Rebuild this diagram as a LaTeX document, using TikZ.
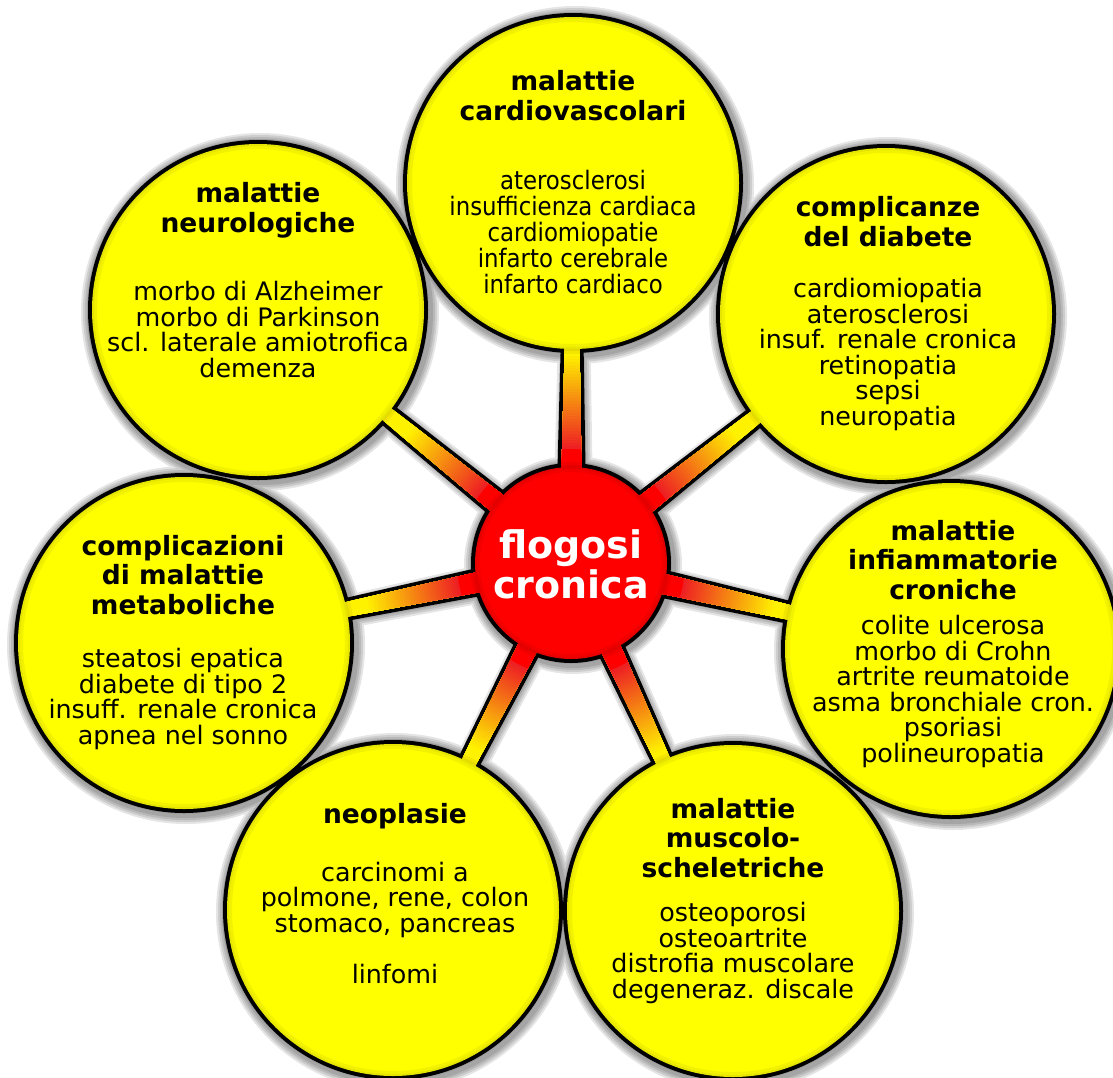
\documentclass[tikz,border=0pt]{standalone}
\usepackage{fontspec}
\setmainfont{DejaVu Sans}
\newfontfamily\narrowfont[FakeStretch=0.9]{DejaVu Sans}
\usetikzlibrary{calc}

\pgfdeclarelayer{paper}
\pgfdeclarelayer{shadow}
\pgfdeclarelayer{outline}
\pgfdeclarelayer{spokes}
\pgfsetlayers{paper,shadow,outline,spokes,main}

\definecolor{bubbleyellow}{RGB}{255,255,0}
\definecolor{hubred}{RGB}{255,0,0}

\tikzset{
  bubble/.style={circle,fill=bubbleyellow,inner sep=0,minimum size=332pt},
  hub/.style={circle,fill=hubred,inner sep=0,minimum size=192pt},
  heading/.style={font=\fontsize{26.5}{29.5}\selectfont\bfseries,align=center,inner sep=0,anchor=base},
  entries/.style={font=\fontsize{25.4}{25.5}\selectfont,align=center,inner sep=0,anchor=base},
  narrow entries/.style={entries,font=\narrowfont\fontsize{25.4}{25.8}\selectfont},
  rimglow/.style={black,opacity=.05}
}
% tapered spoke from the hub to one bubble
\newcommand{\spokeshape}[2]{($(#1.center)!12pt!90:(#2.center)$) -- ($(#2.center)!4pt!-90:(#1.center)$) -- ($(#2.center)!4pt!90:(#1.center)$) -- ($(#1.center)!12pt!-90:(#2.center)$) -- cycle}

\begin{document}
\begin{tikzpicture}[x=1pt,y=-1pt]
  \useasboundingbox (0,0) rectangle (1113,1077);

  % circles
  \node[hub] (hub) at (571,563) {};
  \node[bubble] (cardio) at (573,183) {};
  \node[bubble] (neuro) at (258,310) {};
  \node[bubble] (diab) at (886,314) {};
  \node[bubble] (infl) at (951,649) {};
  \node[bubble] (metab) at (184,643) {};
  \node[bubble] (neopl) at (393,910) {};
  \node[bubble] (musc) at (733,911) {};

  % soft rim inside the circles
  \foreach \b in {cardio,neuro,diab,infl,metab,neopl,musc} {
    \draw[rimglow,line width=10pt] (\b.center) circle (166);
    \draw[rimglow,line width=4pt] (\b.center) circle (166);
  }
  \draw[rimglow,line width=10pt] (hub.center) circle (96);
  \draw[rimglow,line width=4pt] (hub.center) circle (96);

  % texts (placed at the baseline of their last line)
  \node[heading] (cardio-t) at (573,120) {malattie\\cardiovascolari};
  \node[narrow entries] (cardio-l) at (573,293) {aterosclerosi\\insufficienza cardiaca\\cardiomiopatie\\infarto cerebrale\\infarto cardiaco};
  \node[heading] (neuro-t) at (258,232) {malattie\\neurologiche};
  \node[entries] (neuro-l) at (258,377) {morbo di Alzheimer\\morbo di Parkinson\\scl. laterale amiotrofica\\demenza};
  \node[heading] (diab-t) at (888,246) {complicanze\\del diabete};
  \node[entries] (diab-l) at (888,425) {cardiomiopatia\\aterosclerosi\\insuf. renale cronica\\retinopatia\\sepsi\\neuropatia};
  \node[heading] (infl-t) at (953,599) {malattie\\infiammatorie\\croniche};
  \node[entries] (infl-l) at (953,762) {colite ulcerosa\\morbo di Crohn\\artrite reumatoide\\asma bronchiale cron.\\psoriasi\\polineuropatia};
  \node[heading] (metab-t) at (183,614) {complicazioni\\di malattie\\metaboliche};
  \node[entries] (metab-l) at (183,744) {steatosi epatica\\diabete di tipo 2\\insuff. renale cronica\\apnea nel sonno};
  \node[heading] (neopl-t) at (395,823) {neoplasie};
  \node[entries] (neopl-l) at (395,983) {carcinomi a\\polmone, rene, colon\\stomaco, pancreas\\[25.5pt]linfomi};
  \node[heading] (musc-t) at (733,877) {malattie\\muscolo-\\scheletriche};
  \node[entries] (musc-l) at (733,998) {osteoporosi\\osteoartrite\\distrofia muscolare\\degeneraz. discale};
  \node[heading,text=white,font=\fontsize{38}{40}\selectfont\bfseries] (hub-t) at (571,598) {flogosi\\cronica};

  \begin{pgfonlayer}{paper}
    \fill[white] (0,0) rectangle (1113,1077);
  \end{pgfonlayer}

  \begin{pgfonlayer}{shadow}
    \foreach \w in {18,14,10,6}
      \draw[black,opacity=.1,line width=\w pt,transform canvas={xshift=2pt,yshift=-2pt}]
        foreach \b in {cardio,neuro,diab,infl,metab,neopl,musc} {(\b.center) circle (170)}
        (hub.center) circle (100)
        foreach \b in {cardio,neuro,diab,infl,metab,neopl,musc} {\spokeshape{hub}{\b}};
  \end{pgfonlayer}

  \begin{pgfonlayer}{outline}
    \draw[line width=8pt]
      foreach \b in {cardio,neuro,diab,infl,metab,neopl,musc} {(\b.center) circle (166)}
      (hub.center) circle (96)
      foreach \b in {cardio,neuro,diab,infl,metab,neopl,musc} {\spokeshape{hub}{\b}};
  \end{pgfonlayer}

  \begin{pgfonlayer}{spokes}
    \begin{scope}
      \clip foreach \b in {cardio,neuro,diab,infl,metab,neopl,musc} {\spokeshape{hub}{\b}};
      \foreach \r in {240,237,...,90} {
        \pgfmathsetmacro\mix{max(0,min(100,(\r-115)/0.95))}
        \fill[yellow!\mix!red] (hub.center) circle (\r);
      }
    \end{scope}
  \end{pgfonlayer}
\end{tikzpicture}
\end{document}
